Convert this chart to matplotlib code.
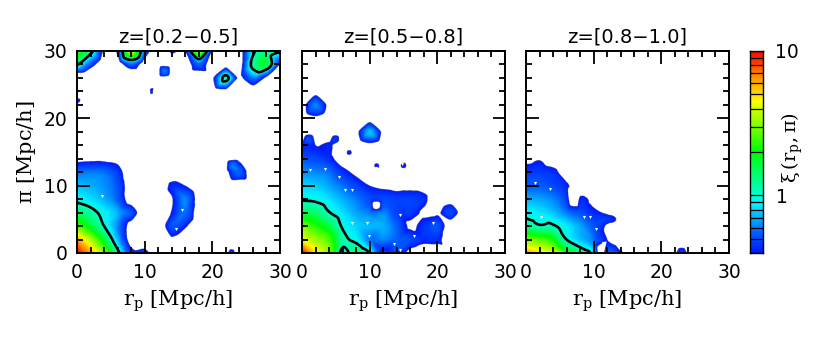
import numpy as np
import matplotlib
matplotlib.use("Agg")
import matplotlib.pyplot as plt
import matplotlib.tri as mtri
from matplotlib.colors import LinearSegmentedColormap, LogNorm

plt.rcParams['font.family'] = 'DejaVu Sans'
plt.rcParams['mathtext.fontset'] = 'dejavuserif'

titles = ["z=[0.2−0.5]", "z=[0.5−0.8]", "z=[0.8−1.0]"]
rp_nodes = [0, 2, 4, 6, 8, 10, 12, 14, 16, 18, 20, 22, 24, 26, 28, 30]
pi_nodes = [0, 2, 4, 6, 8, 10, 12, 14, 16, 18, 20, 22, 24, 26, 28, 30]
levels_below = [0.4, 0.5, 0.6, 0.7, 0.8, 0.9, 1]
levels_above = [2, 3, 4, 5, 6, 7, 8, 9, 10]

# xi(rp, pi): one row per pi node (bottom to top), one column per rp node
xi_z1 = [
 [10.,6.0,3.0,1.15,.47,.46,.3,.3,.3,.3,.3,.38,.3,.3,.3,.3],
 [6.0,3.5,1.7,.72,.34,.3,.3,.38,.33,.3,.3,.3,.3,.3,.3,.3],
 [2.6,1.7,1.0,.62,.34,.3,.3,.52,.42,.3,.3,.3,.3,.3,.3,.3],
 [1.4,1.15,.88,.70,.52,.3,.3,.41,.58,.32,.3,.3,.3,.3,.3,.3],
 [.92,.82,.70,.55,.32,.3,.3,.39,.62,.34,.3,.3,.3,.3,.3,.3],
 [.74,.70,.64,.52,.32,.3,.3,.43,.40,.3,.3,.3,.3,.3,.3,.3],
 [.58,.60,.58,.47,.3,.3,.3,.32,.3,.3,.3,.36,.55,.3,.3,.3],
 [.36,.37,.37,.36,.3,.3,.3,.3,.3,.3,.3,.34,.36,.3,.3,.3],
 [.3,.3,.3,.3,.3,.3,.3,.3,.3,.3,.3,.3,.3,.3,.3,.3],
 [.3,.3,.3,.3,.3,.3,.3,.3,.3,.3,.3,.3,.3,.3,.3,.3],
 [.3,.3,.3,.3,.3,.3,.3,.3,.3,.3,.3,.3,.3,.3,.3,.3],
 [.36,.3,.3,.3,.3,.3,.3,.3,.3,.3,.3,.3,.3,.3,.3,.3],
 [.3,.3,.3,.3,.3,.3,.3,.3,.3,.3,.3,.34,.3,.32,.3,.3],
 [.25,.25,.3,.3,.3,.3,.35,.3,.3,.3,.38,1.15,.37,.60,.37,.3],
 [1.05,.50,.3,.3,.55,.3,.34,.33,.3,.55,.3,.33,.33,1.15,1.6,.39],
 [3.0,1.2,.38,.45,4.0,.60,.3,.42,.42,4.0,.40,.3,.33,.90,1.3,1.1],
]
xi_z2 = [
 [10.,5.0,3.0,.85,1.4,1.0,.40,.50,.35,.3,.3,.36,.3,.3,.3,.3],
 [4.5,3.3,2.5,1.15,.90,.60,.62,.55,.50,.44,.44,.3,.3,.3,.3,.3],
 [3.0,2.2,1.6,.95,.78,.72,.70,.55,.38,.45,.52,.32,.3,.3,.3,.3],
 [1.6,1.4,1.02,.82,.68,.60,.62,.48,.46,.38,.38,.50,.32,.3,.3,.3],
 [.96,.93,.82,.70,.60,.50,.50,.48,.48,.44,.3,.34,.3,.3,.3,.3],
 [.80,.76,.68,.58,.48,.40,.37,.35,.36,.34,.3,.3,.3,.3,.3,.3],
 [.64,.62,.58,.45,.37,.3,.33,.3,.3,.3,.3,.3,.3,.3,.3,.3],
 [.52,.50,.44,.34,.31,.3,.3,.3,.3,.3,.3,.3,.3,.3,.3,.3],
 [.42,.40,.42,.3,.3,.36,.3,.3,.3,.3,.3,.3,.3,.3,.3,.3],
 [.3,.32,.3,.3,.36,.75,.36,.3,.3,.3,.3,.3,.3,.3,.3,.3],
 [.3,.37,.3,.3,.3,.33,.3,.3,.3,.3,.3,.3,.3,.3,.3,.3],
 [.33,.62,.36,.3,.3,.3,.3,.3,.3,.3,.3,.3,.3,.3,.3,.3],
 [.3,.35,.3,.3,.3,.3,.3,.3,.3,.3,.3,.3,.3,.3,.3,.3],
 [.3,.3,.3,.3,.3,.3,.3,.3,.3,.3,.3,.3,.3,.3,.3,.3],
 [.3,.3,.3,.3,.3,.3,.3,.3,.3,.3,.3,.3,.3,.3,.3,.3],
 [.3,.3,.3,.3,.3,.3,.3,.3,.3,.3,.3,.3,.3,.3,.3,.3],
]
xi_z3 = [
 [6.0,5.0,4.0,2.2,1.3,.80,.55,.42,.3,.3,.3,.38,.38,.3,.3,.3],
 [3.0,2.6,2.0,1.0,.74,.58,.40,.3,.3,.3,.3,.3,.3,.3,.3,.3],
 [1.25,1.05,1.05,.85,.68,.52,.38,.3,.3,.3,.3,.3,.3,.3,.3,.3],
 [.90,.84,.74,.60,.52,.43,.38,.3,.3,.3,.3,.3,.3,.3,.3,.3],
 [.70,.68,.62,.46,.42,.36,.3,.3,.3,.3,.3,.3,.3,.3,.3,.3],
 [.54,.54,.50,.42,.34,.3,.3,.3,.3,.3,.3,.3,.3,.3,.3,.3],
 [.47,.47,.44,.33,.3,.3,.3,.3,.3,.3,.3,.3,.3,.3,.3,.3],
 [.36,.39,.33,.3,.3,.3,.3,.3,.3,.3,.3,.3,.3,.3,.3,.3],
 [.3,.3,.3,.3,.3,.3,.3,.3,.3,.3,.3,.3,.3,.3,.3,.3],
 [.3,.3,.3,.3,.3,.3,.3,.3,.3,.3,.3,.3,.3,.3,.3,.3],
 [.3,.3,.3,.3,.3,.3,.3,.3,.3,.3,.3,.3,.3,.3,.3,.3],
 [.3,.3,.3,.3,.3,.3,.3,.3,.3,.3,.3,.3,.3,.3,.3,.3],
 [.3,.3,.3,.3,.3,.3,.3,.3,.3,.3,.3,.3,.3,.3,.3,.3],
 [.3,.3,.3,.3,.3,.3,.3,.3,.3,.3,.3,.3,.3,.3,.3,.3],
 [.3,.3,.3,.3,.3,.3,.3,.3,.3,.3,.3,.3,.3,.3,.3,.3],
 [.3,.3,.3,.3,.3,.3,.3,.3,.3,.3,.3,.3,.3,.3,.3,.3],
]

# additional small-scale samples between the nodes
extra_rp_z1 = [11, 13, 0, 23, 23]
extra_pi_z1 = [24, 27, 22.5, 13, 0]
extra_xi_z1 = [.41, .60, .42, .60, .43]
extra_rp_z2 = [1, 5, 7, 11, 15, 11, 24]
extra_pi_z2 = [17, 17, 15, 13, 13, 7, 28]
extra_xi_z2 = [.50, .46, .42, .42, .43, .33, .42]
extra_rp_z3 = [7, 12, 13.2, 11, 23]
extra_pi_z3 = [8, 5, 5, 0, 0]
extra_xi_z3 = [.30, .46, .41, .30, .47]

# tiny white holes inside the contours
hole_rp_z1 = [3.7, 15.5, 14.6]
hole_pi_z1 = [8.5, 6.4, 3.5]
hole_rp_z2 = [1.2, 3.4, 5.5, 6.3, 7.4, 7.4, 9.6, 9.9, 13.6, 14.5, 16.6, 19.4, 14.5, 10.9, 14.8]
hole_pi_z2 = [12.3, 12.5, 11.3, 9.4, 9.4, 4.5, 4.5, 2.5, 1.4, 0.5, 2.5, 4.4, 5.6, 12.6, 13.2]
hole_rp_z3 = [1.3, 3.5, 2.2, 8.5, 9.5, 10.4, 11.4]
hole_pi_z3 = [10.4, 9.5, 5.3, 5.4, 5.4, 3.5, 1.5]

panels = [
    (titles[0], xi_z1, extra_rp_z1, extra_pi_z1, extra_xi_z1, hole_rp_z1, hole_pi_z1),
    (titles[1], xi_z2, extra_rp_z2, extra_pi_z2, extra_xi_z2, hole_rp_z2, hole_pi_z2),
    (titles[2], xi_z3, extra_rp_z3, extra_pi_z3, extra_xi_z3, hole_rp_z3, hole_pi_z3),
]

W, H = 830, 342
lefts = [77, 302, 526]
cmap = LinearSegmentedColormap.from_list("xi", [
    (0.00, "#0018ff"), (0.10, "#0060ff"), (0.195, "#00c8ff"), (0.234, "#00f0ff"),
    (0.285, "#00ffd0"), (0.50, "#00ff00"), (0.626, "#80ff00"), (0.715, "#d0ff00"),
    (0.75, "#ffff00"), (0.815, "#ffc000"), (0.866, "#ff9000"), (0.91, "#ff6000"),
    (0.95, "#ff3000"), (1.00, "#ff0000")])
norm = LogNorm(0.4, 10)


def px_axes(fig, x0, x1, y0, y1):
    return fig.add_axes([x0 / W, 1 - y1 / H, (x1 - x0) / W, (y1 - y0) / H])


fig = plt.figure(figsize=(W / 100, H / 100), dpi=100)
for i, (title, grid, ex, ey, ez, hx, hy) in enumerate(panels):
    ax = px_axes(fig, lefts[i], lefts[i] + 203, 51, 253)
    X, Y = np.meshgrid(rp_nodes, pi_nodes)
    x = np.r_[X.ravel(), ex]
    y = np.r_[Y.ravel(), ey]
    z = np.log10(np.r_[np.array(grid).ravel(), ez])
    tri = mtri.Triangulation(x, y)
    fx, fy = np.meshgrid(np.linspace(0, 30, 900), np.linspace(0, 30, 900))
    fz = mtri.CubicTriInterpolator(tri, z, kind="geom")(fx, fy)
    field = np.ma.masked_less(10 ** fz, 0.4)
    ax.imshow(field, origin="lower", extent=(0, 30, 0, 30), cmap=cmap, norm=norm,
              aspect="auto", interpolation="antialiased", zorder=1)
    ax.contour(fx, fy, fz, levels=[0.0], colors="k", linewidths=1.9, zorder=2)
    ax.scatter(hx, hy, marker="v", s=5, c="white", linewidths=0, zorder=3)
    ax.set_xlim(0, 30)
    ax.set_ylim(0, 30)
    ax.set_xticks([0, 10, 20, 30])
    ax.set_yticks([0, 10, 20, 30])
    ax.set_xticks(np.arange(0, 31, 2), minor=True)
    ax.set_yticks(np.arange(0, 31, 2), minor=True)
    ax.tick_params(which="major", direction="in", top=True, right=True, length=9,
                   width=1.3, labelsize=13.5, pad=7, labelleft=(i == 0))
    ax.tick_params(which="minor", direction="in", top=True, right=True, length=4.5,
                   width=1.3)
    for s in ax.spines.values():
        s.set_linewidth(1.4)
    ax.set_title(title, fontsize=14, pad=6)
    ax.set_xlabel(r"$\mathrm{r_p}$ [Mpc/h]", family="DejaVu Serif", fontsize=15, labelpad=5)
    if i == 0:
        ax.set_ylabel(r"$\mathrm{\pi}$ [Mpc/h]", family="DejaVu Serif", fontsize=15, labelpad=4)

cax = px_axes(fig, 750, 763, 51, 253)
edges = np.logspace(np.log10(0.4), 1, 200)
cax.pcolormesh([0, 1], edges, edges[:-1, None], cmap=cmap, norm=norm, rasterized=True)
cax.set_yscale("log")
cax.set_ylim(0.4, 10)
cax.set_xlim(0, 1)
cax.set_xticks([])
cax.set_yticks([])
cax.minorticks_off()
for lv in levels_below + levels_above:
    cax.axhline(lv, color="k", lw=0.9)
for s in cax.spines.values():
    s.set_linewidth(1.0)
cax.text(1.95, 10, "10", transform=cax.get_yaxis_transform(), va="center_baseline", ha="left", fontsize=13.5)
cax.text(2.0, 1, "1", transform=cax.get_yaxis_transform(), va="center_baseline", ha="left", fontsize=13.5)
fig.text(792 / W, 1 - 148 / H, r"$\mathrm{\xi\,(r_p,\pi)}$", rotation=90, va="center", ha="center",
         family="DejaVu Serif", fontsize=14)

fig.savefig("out.png", dpi=100)
